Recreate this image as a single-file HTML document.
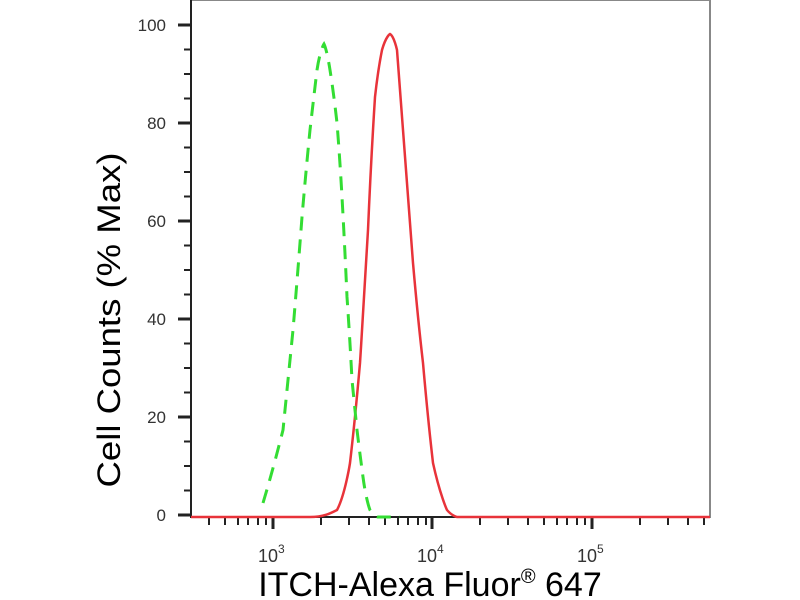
<!DOCTYPE html>
<html><head><style>body{margin:0;background:#fff}svg{display:block}</style></head><body>
<svg width="800" height="600" xmlns="http://www.w3.org/2000/svg" font-family="Liberation Sans, Arial, sans-serif">
<rect width="800" height="600" fill="#fff"/>
<rect x="191" y="0" width="519" height="517" fill="none" stroke="#888" stroke-width="2"/>
<g stroke="#222" stroke-width="2">
<line x1="191" y1="0" x2="191" y2="518"/>
<line x1="178" y1="25" x2="191" y2="25" stroke-width="3"/>
<line x1="178" y1="123" x2="191" y2="123" stroke-width="3"/>
<line x1="178" y1="221" x2="191" y2="221" stroke-width="3"/>
<line x1="178" y1="319" x2="191" y2="319" stroke-width="3"/>
<line x1="178" y1="417" x2="191" y2="417" stroke-width="3"/>
<line x1="178" y1="515" x2="191" y2="515" stroke-width="3"/>
<path d="M184 49.5H191M184 74H191M184 98.5H191M184 147.5H191M184 172H191M184 196.5H191M184 245.5H191M184 270H191M184 294.5H191M184 343.5H191M184 368H191M184 392.5H191M184 441.5H191M184 466H191M184 490.5H191"/>
<line x1="191" y1="517" x2="710" y2="517"/>
<path d="M209 517v8M225 517v8M238 517v8M248 517v8M258 517v8M266 517v8M321 517v8M349 517v8M369 517v8M385 517v8M398 517v8M408 517v8M418 517v8M426 517v8M480 517v8M508 517v8M528 517v8M544 517v8M557 517v8M567 517v8M577 517v8M585 517v8M640 517v8M668 517v8M688 517v8M704 517v8"/>
<path d="M273 517v12M432 517v12M592 517v12" stroke-width="3"/>
</g>
<g font-size="17" fill="#333" text-anchor="end">
<text x="166" y="31">100</text><text x="166" y="129">80</text><text x="166" y="227">60</text><text x="166" y="325">40</text><text x="166" y="423">20</text><text x="166" y="521">0</text>
</g>
<g font-size="18" fill="#333">
<text x="258" y="562">10<tspan font-size="12" dy="-9">3</tspan></text>
<text x="417" y="562">10<tspan font-size="12" dy="-9">4</tspan></text>
<text x="577" y="562">10<tspan font-size="12" dy="-9">5</tspan></text>
</g>
<text x="430" y="596" font-size="34" text-anchor="middle" fill="#000">ITCH-Alexa Fluor<tspan font-size="20" dy="-13">®</tspan><tspan dy="13"> 647</tspan></text>
<text transform="translate(120,320) rotate(-90)" font-size="32" text-anchor="middle" fill="#000" textLength="335" lengthAdjust="spacingAndGlyphs">Cell Counts (% Max)</text>
<path d="M191 517H310C325 517 333 512 337 510C345 495 350 463 350 463C355 420 360 363 360 363C364 300 368 230 368 230C371 160 375 97 375 97C378 70 382 50 382 50C386 36 390 34 390 34C394 36 397 50 397 50C400 90 403 130 403 130C408 200 413 263 413 263C418 320 423 363 423 363C428 420 433 463 433 463C440 495 447 510 447 510C452 516 457 517 457 517H710" fill="none" stroke="#e8333a" stroke-width="2.5"/>
<path d="M263 503C273 470 283 430 283 430C288 380 293 330 293 330C298 270 302 217 302 217C306 170 310 130 310 130C314 95 317 70 317 70C320 50 324 44 324 44C327 50 330 70 330 70C334 95 337 123 337 123C340 160 342 197 342 197C345 250 347 297 347 297C350 340 352 380 352 380C355 410 357 430 357 430C360 455 363 477 363 477C366 500 370 510 370 510C374 516 378 517 378 517H400" fill="none" stroke="#33dd33" stroke-width="3" stroke-dasharray="14,9"/>
</svg>
</body></html>
